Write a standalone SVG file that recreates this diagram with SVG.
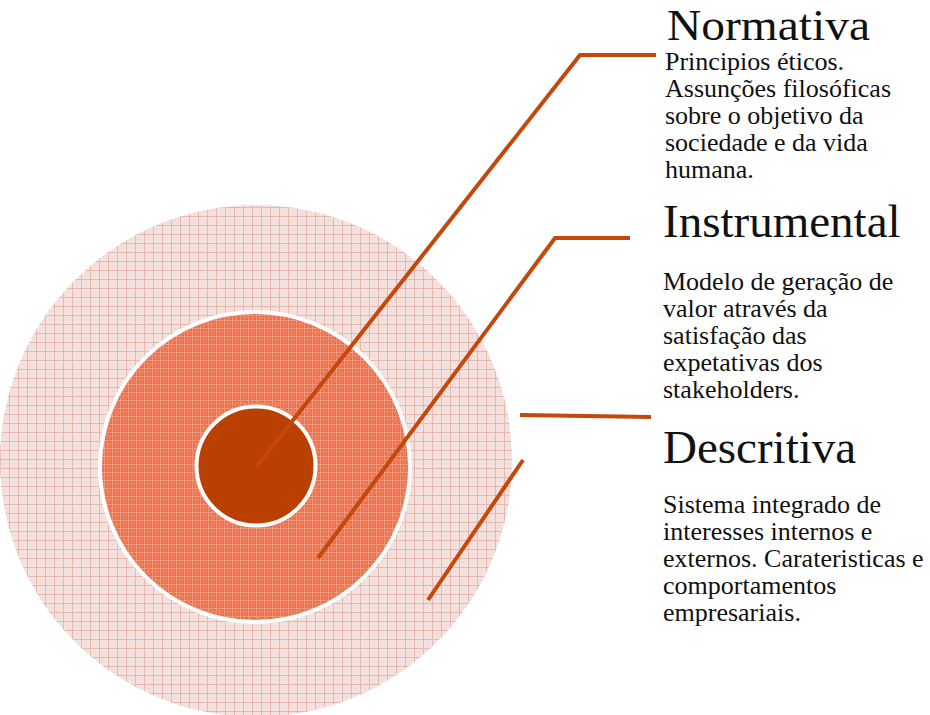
<svg xmlns="http://www.w3.org/2000/svg" width="930" height="715" viewBox="0 0 930 715">
  <style>
    .leader { fill: none; stroke: #c4470c; stroke-width: 4; stroke-linejoin: miter; }
    .ring { stroke: #ffffff; stroke-width: 4; }
    .title { font-family: "Liberation Serif", "Times New Roman", serif; font-size: 47px; fill: #111111; }
    .body { font-family: "Liberation Serif", "Times New Roman", serif; font-size: 26px; fill: #111111; }
  </style>
  <defs>
    <!-- fine graph-paper fill for the outer band -->
    <pattern id="gridOuter" width="9" height="9" patternUnits="userSpaceOnUse">
      <rect width="9" height="9" fill="#f4e1dd"/>
      <rect x="0" y="0" width="9" height="1" fill="#e6b9b0"/>
      <rect x="0" y="0" width="1" height="9" fill="#e6b9b0"/>
      <rect x="4" y="4" width="1" height="1" fill="#ecccc6"/>
    </pattern>
    <!-- plaid fill for the middle band -->
    <pattern id="gridMiddle" width="8" height="8" patternUnits="userSpaceOnUse">
      <rect width="8" height="8" fill="#e66f4b"/>
      <rect x="0" y="0" width="8" height="1" fill="#f19b80"/>
      <rect x="0" y="0" width="1" height="8" fill="#f19b80"/>
      <rect x="0" y="3" width="8" height="1" fill="#ee8a6d"/>
      <rect x="3" y="0" width="1" height="8" fill="#ee8a6d"/>
      <rect x="0" y="5" width="8" height="1" fill="#ec8264"/>
      <rect x="5" y="0" width="1" height="8" fill="#ec8264"/>
    </pattern>
  </defs>

  <!-- concentric levels -->
  <g id="descritiva-level">
    <circle cx="256" cy="461" r="256" fill="url(#gridOuter)"/>
  </g>
  <g id="instrumental-level">
    <circle cx="255" cy="467" r="155" fill="url(#gridMiddle)" class="ring"/>
  </g>
  <g id="normativa-level">
    <circle cx="256" cy="466" r="59.5" fill="#b94000" class="ring"/>
  </g>

  <!-- leader lines -->
  <g id="connectors">
    <polyline class="leader" points="257,466 580,55 656,55"/>
    <polyline class="leader" points="318,558 555,238 630,238"/>
    <line class="leader" x1="520" y1="415" x2="651" y2="417"/>
    <line class="leader" x1="523" y1="460" x2="428" y2="600"/>
  </g>

  <!-- labels -->
  <g id="normativa-label">
    <text class="title" x="667" y="40" style="font-size:45px" textLength="203" lengthAdjust="spacingAndGlyphs">Normativa</text>
    <text class="body">
      <tspan x="665" y="70">Principios éticos.</tspan>
      <tspan x="665" y="97">Assunções filosóficas</tspan>
      <tspan x="665" y="124">sobre o objetivo da</tspan>
      <tspan x="665" y="151">sociedade e da vida</tspan>
      <tspan x="665" y="178">humana.</tspan>
    </text>
  </g>
  <g id="instrumental-label">
    <text class="title" x="663" y="237">Instrumental</text>
    <text class="body">
      <tspan x="663" y="290">Modelo de geração de</tspan>
      <tspan x="663" y="317">valor através da</tspan>
      <tspan x="663" y="344">satisfação das</tspan>
      <tspan x="663" y="371">expetativas dos</tspan>
      <tspan x="663" y="398">stakeholders.</tspan>
    </text>
  </g>
  <g id="descritiva-label">
    <text class="title" x="663" y="463">Descritiva</text>
    <text class="body">
      <tspan x="663" y="513">Sistema integrado de</tspan>
      <tspan x="663" y="540">interesses internos e</tspan>
      <tspan x="663" y="567">externos. Carateristicas e</tspan>
      <tspan x="663" y="594">comportamentos</tspan>
      <tspan x="663" y="621">empresariais.</tspan>
    </text>
  </g>
</svg>
